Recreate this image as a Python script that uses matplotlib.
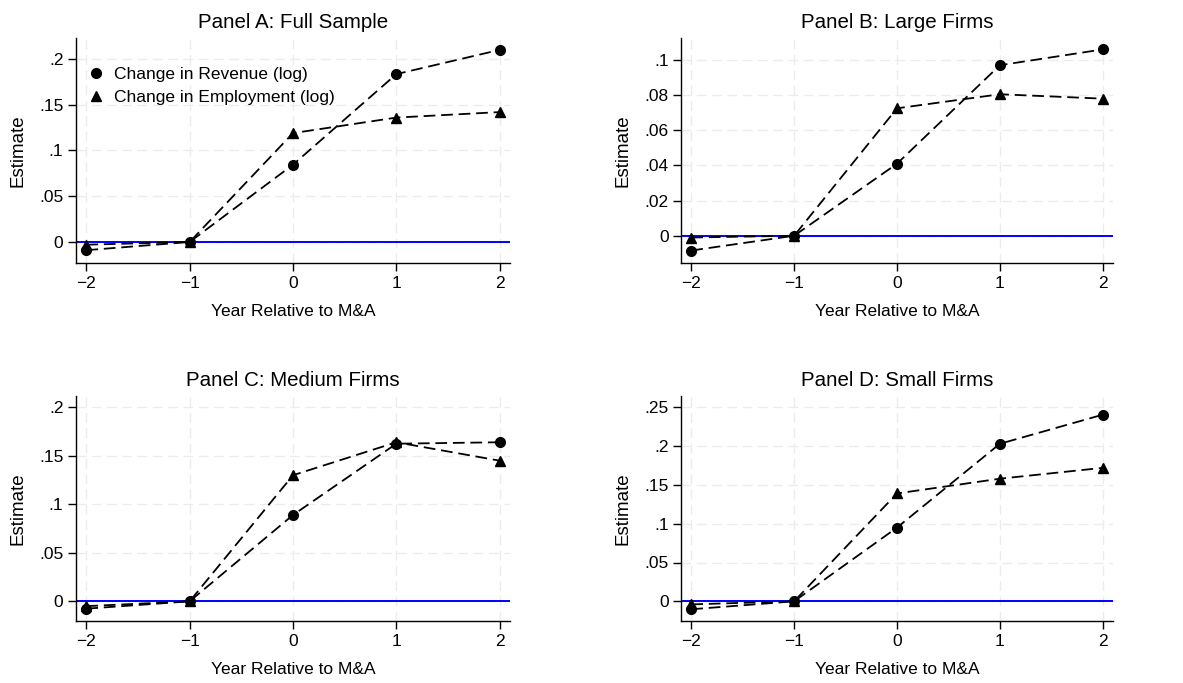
import matplotlib

matplotlib.use("Agg")
import matplotlib.pyplot as plt
from matplotlib.ticker import FuncFormatter

plt.rcParams["font.family"] = ["Liberation Sans", "DejaVu Sans"]

years = [-2, -1, 0, 1, 2]

titles = [
    "Panel A: Full Sample",
    "Panel B: Large Firms",
    "Panel C: Medium Firms",
    "Panel D: Small Firms",
]

revenue_a = [-0.009, 0.0, 0.0845, 0.1835, 0.210]
employ_a = [-0.003, 0.0, 0.119, 0.136, 0.142]

revenue_b = [-0.0084, 0.0, 0.041, 0.097, 0.106]
employ_b = [-0.001, 0.0, 0.0725, 0.0805, 0.078]

revenue_c = [-0.0076, 0.0, 0.089, 0.1625, 0.164]
employ_c = [-0.005, 0.0, 0.130, 0.164, 0.145]

revenue_d = [-0.0103, 0.0, 0.095, 0.203, 0.2405]
employ_d = [-0.004, 0.0, 0.139, 0.158, 0.172]

y_ticks = [
    [0, 0.05, 0.1, 0.15, 0.2],
    [0, 0.02, 0.04, 0.06, 0.08, 0.1],
    [0, 0.05, 0.1, 0.15, 0.2],
    [0, 0.05, 0.1, 0.15, 0.2, 0.25],
]
y_limits = [(-0.023, 0.223), (-0.0155, 0.1125), (-0.0203, 0.2117), (-0.0254, 0.2646)]

revenue = [revenue_a, revenue_b, revenue_c, revenue_d]
employ = [employ_a, employ_b, employ_c, employ_d]

# axes boxes in pixels: left, right, top, bottom
W, H = 1183, 683
boxes = [(76, 510, 38, 263), (681, 1113, 38, 263), (76, 510, 396, 621), (681, 1113, 396, 621)]


def stata_fmt(v, pos):
    if abs(v) < 1e-12:
        return "0"
    s = f"{v:.3f}".rstrip("0").rstrip(".")
    return s.replace("0.", ".", 1)


fig = plt.figure(figsize=(W / 100, H / 100), dpi=100)

for i in range(4):
    l, r, t, b = boxes[i]
    ax = fig.add_axes([l / W, 1 - b / H, (r - l) / W, (b - t) / H])

    ax.axhline(0, color="#0000ff", lw=1.4, zorder=2)
    ax.plot(years, revenue[i], color="black", lw=1.3, dashes=(6.5, 3.2),
            marker="o", markersize=7, label="Change in Revenue (log)", zorder=3)
    ax.plot(years, employ[i], color="black", lw=1.3, dashes=(6.5, 3.2),
            marker="^", markersize=7.5, label="Change in Employment (log)", zorder=3)

    ax.set_xlim(-2.1, 2.1)
    ax.set_ylim(*y_limits[i])
    ax.set_xticks(years)
    ax.set_yticks(y_ticks[i])
    ax.yaxis.set_major_formatter(FuncFormatter(stata_fmt))

    ax.grid(True, color="#ececec", linestyle=(0, (7, 4)), lw=1.0, zorder=0)
    ax.set_axisbelow(True)

    for side in ["top", "right"]:
        ax.spines[side].set_visible(False)
    for side in ["left", "bottom"]:
        ax.spines[side].set_linewidth(1.0)

    ax.tick_params(axis="both", direction="out", length=5.5, width=1.0, labelsize=12.5)
    ax.set_title(titles[i], fontsize=14.8, pad=7)
    ax.set_xlabel("Year Relative to M&A", fontsize=12.5, labelpad=10)
    ax.set_ylabel("Estimate", fontsize=13.5, labelpad=9)

    if i == 0:
        ax.legend(loc="upper left", bbox_to_anchor=(-0.01, 0.94), frameon=False,
                  fontsize=12.5, handlelength=1.0, handletextpad=0.55,
                  labelspacing=0.45, borderaxespad=0.5)
        leg = ax.get_legend()
        for h in leg.legend_handles:
            h.set_linestyle("none")

fig.savefig("out.png", dpi=100)
